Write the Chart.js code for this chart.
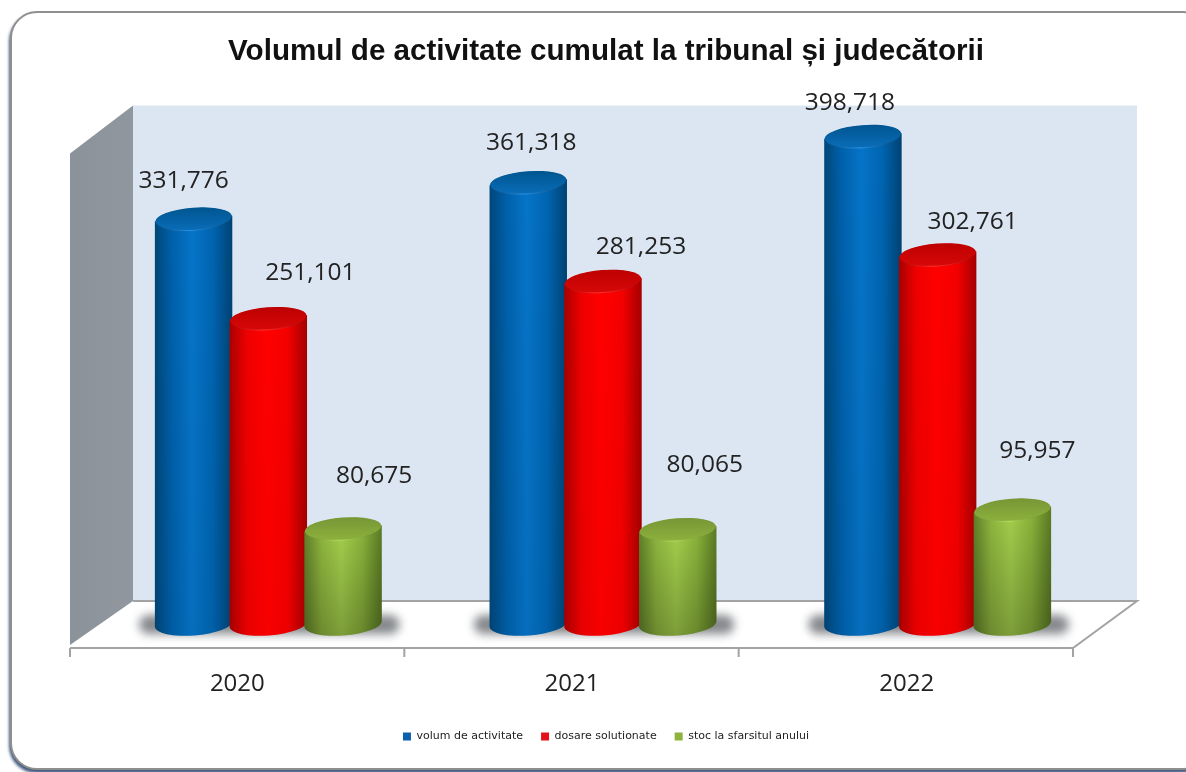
<!DOCTYPE html>
<html>
<head>
<meta charset="utf-8">
<title>Volumul de activitate</title>
<script src="https://cdn.jsdelivr.net/npm/chart.js@4"></script>
<style>
  html, body { margin:0; padding:0; background:#fff; overflow:hidden; width:1186px; height:772px; }
  .card { position:absolute; left:10px; top:11px; width:1196px; height:755px; background:#fff;
          border:2px solid #8f8f8f; border-radius:27px; box-shadow:-1px 3px 3px rgba(20,50,95,.8); }
  .wrap { position:absolute; left:26px; top:0; width:1160px; height:772px; }
  canvas { display:block; }
</style>
</head>
<body>
<div class="card"></div>
<div class="wrap"><canvas id="c" width="1160" height="772"></canvas></div>
<script>
const years = ['2020', '2021', '2022'];
const volum = [331776, 361318, 398718];
const dosare = [251101, 281253, 302761];
const stoc = [80675, 80065, 95957];
const seriesNames = ['volum de activitate', 'dosare solutionate', 'stoc la sfarsitul anului'];
const axisMax = 400000;

// hand placed value labels in the original: offset from bar centre / top
const labelShift = [
  [[-10, -39], [42, -46], [31, -53]],
  [[3, -40], [38, -35], [27, -65]],
  [[-13, -34], [35, -33], [25, -60]],
];

const skins = [
  { side:['#004678','#0060aa','#0674c8','#0064b0','#004272'], top:['#00558f','#0a6cb8'], rim:'#2a90e0', shade:.05 },
  { side:['#a80000','#ee0000','#ff0000','#f40000','#a40000'], top:['#bc0000','#d80808'], rim:'#ff3030', shade:.03 },
  { side:['#5f8028','#8fb53e','#a4cf4c','#8ab23a','#5a7a24'], top:['#779636','#8cb03c'], rim:'#b4da5c', shade:.24 },
];

const scene3d = {
  id: 'scene3d',
  beforeDatasetsDraw(chart) {
    const { ctx, chartArea: a } = chart;
    const fx = a.left - 31, bx = a.left + 32, fr = a.right - 32, br = a.right + 32;
    const ft = a.top + 18, bt = a.top - 30, fb = a.bottom + 19, bb = a.bottom - 28;

    ctx.save();
    // back wall
    ctx.fillStyle = '#dce6f2';
    ctx.fillRect(bx, bt, br - bx, bb - bt);
    // left wall
    const g = ctx.createLinearGradient(fx, 0, bx, 0);
    g.addColorStop(0, '#8b9299'); g.addColorStop(1, '#90979f');
    ctx.fillStyle = g;
    ctx.beginPath();
    ctx.moveTo(fx, ft); ctx.lineTo(bx, bt); ctx.lineTo(bx, bb); ctx.lineTo(fx, fb - 3);
    ctx.closePath(); ctx.fill();
    // floor edges
    ctx.strokeStyle = '#a3a3a3'; ctx.lineWidth = 2;
    ctx.beginPath();
    ctx.moveTo(bx, bb); ctx.lineTo(br, bb); ctx.lineTo(fr, fb); ctx.lineTo(fx, fb);
    ctx.stroke();
    // ticks on the front edge
    const step = (fr - fx) / years.length;
    ctx.beginPath();
    for (let i = 0; i <= years.length; i++) {
      ctx.moveTo(fx + step * i, fb); ctx.lineTo(fx + step * i, fb + 9);
    }
    ctx.stroke();

    // floor shadows, one per group
    const first = chart.getDatasetMeta(0).data, last = chart.getDatasetMeta(2).data;
    first.forEach((b, i) => {
      const l = b.x - b.width / 2, r = last[i].x + last[i].width / 2;
      ctx.save();
      ctx.filter = 'blur(5px)';
      ctx.fillStyle = '#85888c';
      ctx.beginPath();
      ctx.roundRect(l - 17, a.bottom - 14, r - l + 36, 19, 9);
      ctx.fill();
      ctx.restore();
    });

    // cylinders
    chart.data.datasets.forEach((ds, d) => {
      chart.getDatasetMeta(d).data.forEach(b => drawCylinder(ctx, b, skins[d]));
    });

    // value labels
    ctx.fillStyle = '#222';
    ctx.font = '24.5px "Open Sans"';
    ctx.textAlign = 'center';
    ctx.textBaseline = 'middle';
    chart.data.datasets.forEach((ds, d) => {
      chart.getDatasetMeta(d).data.forEach((b, i) => {
        const [dx, dy] = labelShift[i][d];
        ctx.fillText(ds.data[i].toLocaleString('en-US'), b.x + dx, b.y + dy);
      });
    });
    ctx.restore();
    return false;
  }
};

function drawCylinder(ctx, b, skin) {
  const w = b.width + 2.5, rx = w / 2 + .2, ry = 11.5, rot = -0.075;
  const cx = b.x, ty = b.y - 1, by = b.base - 5;
  const tipX = rx * Math.cos(rot), tipY = rx * Math.sin(rot);

  // body
  ctx.beginPath();
  ctx.moveTo(cx - tipX, ty - tipY);
  ctx.lineTo(cx - tipX, by - tipY);
  ctx.ellipse(cx, by, rx, ry, rot, Math.PI, 0, true);
  ctx.lineTo(cx + tipX, ty + tipY);
  ctx.closePath();
  const g = ctx.createLinearGradient(cx - tipX, 0, cx + tipX, 0);
  [0, .22, .48, .75, 1].forEach((p, i) => g.addColorStop(p, skin.side[i]));
  ctx.fillStyle = g;
  ctx.fill();
  // darker towards the floor
  const v = ctx.createLinearGradient(0, ty, 0, by + ry);
  v.addColorStop(0, 'rgba(0,0,0,0)');
  v.addColorStop(1, `rgba(0,0,0,${skin.shade})`);
  ctx.fillStyle = v;
  ctx.fill();

  // lit rim fades towards the sides
  const rg = ctx.createLinearGradient(cx - tipX, 0, cx + tipX, 0);
  rg.addColorStop(0, skin.side[0]);
  rg.addColorStop(.45, skin.rim);
  rg.addColorStop(1, skin.side[4]);
  ctx.beginPath();
  ctx.ellipse(cx, ty + .8, rx - .5, ry - .2, rot, 0, Math.PI * 2);
  ctx.fillStyle = rg;
  ctx.fill();
  // top face
  const tg = ctx.createLinearGradient(0, ty - ry, 0, ty + ry);
  tg.addColorStop(0, skin.top[0]);
  tg.addColorStop(1, skin.top[1]);
  ctx.beginPath();
  ctx.ellipse(cx, ty, rx - .5, ry - .5, rot, 0, Math.PI * 2);
  ctx.fillStyle = tg;
  ctx.fill();
}

const chart = new Chart(document.getElementById('c'), {
  type: 'bar',
  data: {
    labels: years,
    datasets: [
      { label: seriesNames[0], data: volum, backgroundColor: '#0b5fae' },
      { label: seriesNames[1], data: dosare, backgroundColor: '#e3121a' },
      { label: seriesNames[2], data: stoc, backgroundColor: '#8db33c' },
    ],
  },
  options: {
    responsive: false,
    animation: false,
    layout: { padding: { left: 75, right: 75, top: 0, bottom: 20 } },
    datasets: { bar: { categoryPercentage: .67, barPercentage: 1 } },
    plugins: {
      title: {
        display: true,
        text: 'Volumul de activitate cumulat la tribunal și judecătorii',
        color: '#111',
        font: { family: '"Liberation Sans"', size: 29.6, weight: 'bold' },
        padding: { top: 34, bottom: 66 },
      },
      legend: {
        position: 'bottom',
        labels: {
          boxWidth: 8, boxHeight: 8, padding: 18, color: '#222',
          font: { family: '"DejaVu Sans"', size: 11 },
        },
      },
      tooltip: { enabled: false },
    },
    scales: {
      x: {
        grid: { display: false },
        border: { display: false },
        afterFit: s => { s.height = 84; },
        ticks: { color: '#222', labelOffset: -31, padding: 33, maxRotation: 0, font: { family: '"Open Sans"', size: 24 } },
      },
      y: {
        position: 'right', min: 0, max: axisMax,
        grid: { display: false },
        border: { display: false },
        ticks: { display: false },
        afterFit: s => { s.width = 6; },
      },
    },
  },
  plugins: [scene3d],
});
</script>
</body>
</html>
